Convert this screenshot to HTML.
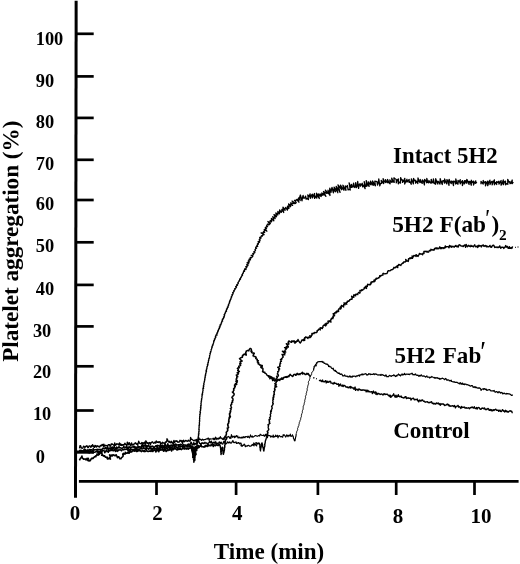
<!DOCTYPE html>
<html><head><meta charset="utf-8">
<style>
html,body{margin:0;padding:0;background:#fff;}
body{width:520px;height:564px;overflow:hidden;}
svg{display:block;}
text{font-family:"Liberation Serif","Times New Roman",serif;font-weight:bold;fill:#000;}
</style></head><body>
<svg width="520" height="564" viewBox="0 0 520 564">
<rect width="520" height="564" fill="#fff"/>
<g stroke="#000" fill="none">
<line x1="76.15" y1="0.8" x2="75.5" y2="497.7" stroke-width="3.0"/>
<line x1="78.9" y1="481.3" x2="518.6" y2="481.3" stroke-width="2.7"/>
<g stroke-width="2.7">
<line x1="76" y1="33.8" x2="93.7" y2="33.8"/>
<line x1="76" y1="76.4" x2="93.7" y2="76.4"/>
<line x1="76" y1="117.9" x2="93.7" y2="117.9"/>
<line x1="76" y1="159.8" x2="93.7" y2="159.8"/>
<line x1="76" y1="200.0" x2="93.7" y2="200.0"/>
<line x1="76" y1="242.3" x2="93.7" y2="242.3"/>
<line x1="76" y1="284.9" x2="93.7" y2="284.9"/>
<line x1="76" y1="326.4" x2="93.7" y2="326.4"/>
<line x1="76" y1="366.3" x2="93.7" y2="366.3"/>
<line x1="76" y1="410.5" x2="93.7" y2="410.5"/>
<line x1="76" y1="452.1" x2="94" y2="452.1" stroke-width="3.2"/>
</g>
<g stroke-width="2.7">
<line x1="156.5" y1="481" x2="156.5" y2="495"/>
<line x1="236.1" y1="481" x2="236.1" y2="495"/>
<line x1="317.9" y1="481" x2="317.9" y2="495"/>
<line x1="396.2" y1="481" x2="396.2" y2="495"/>
<line x1="474.5" y1="481" x2="474.5" y2="495"/>
</g>
</g>
<g font-size="19.7">
<text transform="translate(35.7,44.5) scale(0.935,1)">100</text>
<text transform="translate(35.7,86.5) scale(0.935,1)">90</text>
<text transform="translate(35.7,128.4) scale(0.935,1)">80</text>
<text transform="translate(35.7,170.0) scale(0.935,1)">70</text>
<text transform="translate(35.7,210.4) scale(0.935,1)">60</text>
<text transform="translate(35.7,251.8) scale(0.935,1)">50</text>
<text transform="translate(35.7,295.0) scale(0.935,1)">40</text>
<text transform="translate(32.9,336.8) scale(0.935,1)">30</text>
<text transform="translate(32.9,377.7) scale(0.935,1)">20</text>
<text transform="translate(32.9,420.4) scale(0.935,1)">10</text>
<text transform="translate(35.7,462.6) scale(0.935,1)">0</text>
</g>
<g font-size="20.2" text-anchor="middle">
<text transform="translate(75.1,520.0) scale(1.04,1)">0</text>
<text transform="translate(157.6,520.0) scale(1.04,1)">2</text>
<text transform="translate(237.3,520.2) scale(1.04,1)">4</text>
<text transform="translate(318.7,523.2) scale(1.04,1)">6</text>
<text transform="translate(397.9,523.2) scale(1.04,1)">8</text>
<text transform="translate(481.0,523.2) scale(1.04,1)">10</text>
</g>
<text transform="translate(213.8,558.9) scale(1.045,1)" font-size="22.1">Time (min)</text>
<text transform="translate(17.9,361.8) rotate(-89.9) scale(1.015,1)" font-size="22.8">Platelet aggregation (%)</text>
<text transform="translate(393.1,162.9) scale(1.032,1)" font-size="22.1">Intact 5H2</text>
<text transform="translate(392.2,232.3) scale(1.055,1)" font-size="22.1">5H2 F(ab</text>
<text transform="translate(394.6,362.7) scale(1.045,1)" word-spacing="1.3" font-size="22.1">5H2 Fab</text>
<text transform="translate(485.3,227.3) scale(0.68,0.93)" font-size="26">′</text>
<text transform="translate(491.5,232.3) scale(1.055,1)" font-size="22.1">)</text>
<text transform="translate(499.0,239.6) scale(1.020,1)" font-size="15.0">2</text>
<text transform="translate(480.3,360.7) scale(0.80,1.13)" font-size="26">′</text>
<text transform="translate(393.2,437.6) scale(1.045,1)" font-size="22.1">Control</text>
<g id="curves" stroke="#000" fill="none" stroke-width="1" stroke-linejoin="round">
<path id="cA0" stroke-width="1.50" d="M79.5 450.0L80.1 451.3L80.7 451.4L81.3 451.5L81.9 452.0L82.5 450.7L83.1 452.2L83.7 451.6L84.3 451.2L84.9 450.5L85.5 450.7L86.1 452.0L86.7 450.9L87.4 451.7L88.0 452.6L88.6 452.6L89.2 453.0L89.8 451.5L90.4 450.7L91.0 452.5L91.6 451.9L92.2 452.6L92.8 451.7L93.4 452.6L94.0 452.4L94.6 452.2L95.2 452.0L95.8 451.8L96.4 451.7L97.0 451.6L97.6 452.2L98.1 451.0L98.8 452.8L99.3 451.2L100.0 452.1L100.5 451.2L101.1 450.9L101.8 452.8L102.3 450.9L102.8 450.0L103.4 450.3L104.1 450.7L104.8 452.7L105.3 451.2L105.9 451.7L106.4 450.0L107.1 451.0L107.7 451.3L108.3 452.3L108.8 450.2L109.4 451.1L110.0 450.9L110.5 449.7L111.2 450.5L111.8 450.3L112.3 448.5L113.0 450.8L113.6 450.8L114.2 450.0L114.7 449.1L115.5 451.4L116.0 450.5L116.7 451.0L117.3 451.4L117.8 449.7L118.4 450.7L119.0 449.8L119.6 449.9L120.2 449.8L120.8 449.9L121.5 450.8L122.0 450.0L122.6 449.6L123.2 449.5L123.8 450.0L124.4 448.9L125.0 449.1L125.6 449.5L126.2 449.0L126.8 449.4L127.4 448.9L128.1 451.1L128.6 450.6L129.2 449.8L129.8 449.3L130.5 451.2L131.0 449.7L131.6 449.2L132.2 449.5L132.8 449.5L133.5 450.4L134.0 449.3L134.7 451.0L135.2 448.5L135.9 449.7L136.4 448.3L137.1 450.6L137.7 448.9L138.3 449.0L138.9 449.8L139.5 450.1L140.0 448.1L140.7 448.7L141.2 447.8L141.9 449.0L142.5 448.9L143.1 448.6L143.7 448.3L144.3 448.5L144.9 448.2L145.5 449.3L146.2 450.1L146.7 447.2L147.3 448.6L147.9 448.4L148.5 449.2L149.1 448.0L149.7 448.6L150.3 447.8L151.0 449.2L151.6 448.8L152.1 448.5L152.8 448.9L153.4 448.4L153.9 447.3L154.6 449.0L155.2 448.8L155.8 448.4L156.4 449.3L157.0 449.6L157.6 447.6L158.2 447.8L158.8 449.7L159.4 449.7L160.0 447.8L160.5 447.3L161.2 447.7L161.8 447.8L162.3 446.9L163.0 448.1L163.6 447.1L164.2 447.0L164.9 448.8L165.4 447.5L166.1 447.9L166.7 448.5L167.3 448.6L167.9 447.6L168.5 447.8L169.0 447.1L169.8 449.2L170.3 448.3L170.8 446.7L171.5 447.6L172.2 448.2L172.8 447.9L173.4 449.0L174.0 448.7L174.5 447.0L175.1 447.2L175.7 446.2L176.4 447.4L177.0 447.3L177.7 449.5L178.2 447.3L178.7 445.3L179.3 446.4L180.0 447.1L180.5 445.9L181.1 446.1L181.8 446.5L182.4 447.1L183.0 446.6L183.6 445.9L184.3 447.3L184.8 446.2L185.4 446.1L185.9 445.3L186.6 445.7L187.3 446.9L187.8 445.0L188.5 446.1L189.1 446.8L189.7 445.9L190.3 446.3L190.8 445.1L191.6 447.1"/>
<path id="cA" stroke-width="1.30" d="M191.2 446.0L191.4 446.6L191.9 447.2L191.9 447.8L191.6 448.4L191.4 449.0L191.6 449.6L191.6 450.2L191.9 450.8L192.0 451.4L192.0 452.0L192.1 451.4L191.8 450.8L192.2 450.2L192.5 449.6L192.1 449.0L192.0 448.4L192.3 447.8L192.3 447.2L192.0 446.6L192.5 446.0L192.5 446.6L192.6 447.2L192.2 447.8L192.5 448.4L192.7 449.0L192.7 449.6L192.9 450.2L192.9 450.8L192.7 451.4L192.9 452.0L192.9 452.6L192.5 453.2L192.6 453.8L192.6 454.4L192.7 455.0L192.8 455.6L192.6 456.2L192.9 456.8L192.6 457.4L193.0 457.9L193.0 457.4L192.8 456.8L192.9 456.2L193.1 455.6L193.4 455.0L193.1 454.3L193.1 453.7L193.1 453.1L193.0 452.5L192.9 451.9L193.2 451.3L192.9 450.7L193.2 450.1L193.3 449.4L193.2 448.8L193.1 448.2L193.0 447.6L193.5 447.2L193.6 447.6L193.2 448.2L193.3 448.8L193.5 449.4L193.7 450.0L193.4 450.6L193.1 451.2L193.6 451.8L193.6 452.4L193.4 453.0L193.5 453.6L193.2 454.2L193.6 454.8L193.5 455.4L193.8 456.0L193.3 456.6L193.7 457.2L194.1 457.8L193.9 458.4L193.8 459.0L193.4 459.6L193.7 460.2L193.8 460.8L193.7 461.4L193.9 462.3L193.9 461.4L194.1 460.8L194.0 460.2L193.9 459.6L193.9 459.0L193.9 458.3L193.8 457.7L194.2 457.1L193.8 456.5L194.2 455.9L194.3 455.3L194.1 454.7L194.0 454.1L194.0 453.5L194.2 452.9L194.3 452.3L194.3 451.7L194.4 451.1L194.2 450.4L194.3 449.8L194.0 449.2L194.3 448.6L194.3 448.0L194.4 448.6L194.1 449.2L194.2 449.8L194.9 450.3L194.5 450.9L194.8 451.5L194.4 452.1L194.0 452.7L194.5 453.3L194.5 453.9L194.6 454.5L194.5 455.1L194.5 455.7L194.3 456.3L194.7 456.9L194.4 457.5L194.8 458.0L194.7 458.6L194.5 459.2L194.6 459.8L194.9 460.4L194.7 460.8L194.7 460.4L194.8 459.8L195.1 459.2L194.7 458.6L194.9 458.0L195.1 457.4L195.1 456.7L195.1 456.1L195.3 455.5L195.2 454.9L195.3 454.3L195.2 453.7L195.5 453.1L194.9 452.5L195.3 451.9L195.1 451.3L195.1 450.7L195.0 450.0L194.8 449.4L195.0 448.8L195.1 448.2L195.3 447.6L195.3 446.7L195.1 447.6L195.3 448.2L195.4 448.8L195.6 449.5L195.7 450.1L195.8 450.7L195.8 451.3L195.7 451.9L195.7 452.5L196.0 453.1L195.9 453.8L196.0 454.4L195.8 455.0L196.2 454.4L196.1 453.8L195.9 453.2L195.6 452.6L195.6 452.0L195.6 451.4L196.0 450.8L195.9 450.2L196.1 449.6L196.0 449.0L196.1 448.4L196.5 447.8L196.2 447.2L196.2 446.6L196.3 445.8L196.3 446.6L196.6 447.1L196.8 447.7L196.9 448.2L197.0 448.8L196.7 449.4L196.9 450.5L196.8 449.4L197.0 448.8L197.0 448.3L196.8 447.7L196.9 447.1L197.0 446.5L196.9 445.9L197.5 445.4L196.9 444.7L197.2 444.2L197.3 443.6L197.2 443.0L197.4 442.4L197.7 441.8L197.7 441.2L197.9 440.6L198.1 440.0 M198.0 440.0L197.7 440.0L198.1 439.0L197.9 438.0L198.5 438.0L198.3 437.0L198.3 436.0L198.6 436.0L198.6 434.9L198.4 433.9L199.0 433.9L198.8 432.8L198.7 431.7L199.1 431.7L199.0 430.6L199.2 429.5L198.8 429.5L199.0 428.4L199.2 427.3L199.0 427.3L199.2 426.2L199.0 425.1L199.5 425.2L199.4 424.1L199.5 423.0L199.3 423.0L199.5 421.9L199.8 420.8L199.4 420.8L199.7 419.7L199.5 418.6L199.8 418.6L199.6 417.5L199.7 416.4L199.9 416.4L199.9 415.3L199.7 414.2L200.2 414.2L200.2 413.1L200.5 412.1L199.9 412.0L200.3 410.9L200.7 409.9L200.4 409.8L200.7 408.8L201.0 407.7L200.5 407.6L200.9 406.6L200.7 405.4L201.1 405.5L201.1 404.4L200.9 403.3L201.2 403.3L201.2 402.2L201.2 401.1L201.6 401.1L201.4 400.0L201.8 399.0L201.5 398.9L201.9 397.9L202.1 396.8L201.9 396.8L202.0 395.7L202.6 394.7L202.0 394.6L202.4 393.6L202.8 392.5L202.5 392.5L202.8 391.4L203.1 390.4L202.8 390.3L203.0 389.3L202.9 388.2L203.6 388.3L203.3 387.1L203.8 386.1L203.3 386.0L203.7 385.0L204.1 384.0L203.7 383.9L204.0 382.8L204.5 381.8L204.2 381.8L204.5 380.7L204.9 379.7L204.6 379.6L204.8 378.6L205.3 377.5L204.9 377.5L205.2 376.4L205.6 375.4L205.1 375.3L205.7 374.3L205.7 373.2L206.0 373.2L206.1 372.2L206.6 371.1L205.9 371.0L206.4 370.0L206.5 368.9L206.9 368.9L206.9 367.8L206.9 366.7L207.3 366.7L207.5 365.6L208.0 364.6L207.4 364.5L208.0 363.5L208.0 362.3L208.4 362.4L208.4 361.3L208.5 360.1L208.9 360.2L208.8 359.0L209.1 357.9L209.5 358.0L209.5 356.9L209.8 355.8L209.5 355.8L210.0 354.7L210.3 353.6L209.9 353.5L210.6 352.6L210.5 351.4L210.9 351.5L211.1 350.4L211.2 349.3L211.5 349.4L211.7 348.3L212.2 347.3L211.7 347.2L212.4 346.2L212.9 345.3L212.4 345.1L213.2 344.2L213.3 343.1L213.5 343.2L213.8 342.1L213.6 340.9L214.2 341.1L214.5 340.0L214.4 338.8L215.0 339.1L215.2 338.0L215.9 337.1L215.3 336.9L215.8 335.9L216.0 334.8L217.0 335.2L216.8 334.0L216.9 332.8L217.5 333.1L217.7 332.0L217.7 330.8L218.4 331.1L218.4 330.0L218.6 328.9L219.0 329.1L219.5 328.1L219.3 326.8L220.1 327.1L220.1 326.0L220.0 324.8L220.8 325.1L221.1 324.1L221.1 322.9L221.6 323.1L221.7 322.0L221.9 320.9L222.6 321.2L222.3 319.9L222.5 318.8L223.1 319.1L223.6 318.1L223.5 316.9L224.2 317.2L224.3 316.1L224.7 315.1L224.1 314.8L224.8 314.0L225.0 312.9L225.5 313.1L225.5 311.9L226.5 311.2L226.0 310.9L226.5 310.0L226.5 308.8L227.1 309.1L227.4 308.0L227.4 306.9L228.2 307.2L228.0 306.0L228.8 305.1L228.3 304.9L228.9 304.0L229.1 302.9L229.6 303.1L229.5 301.9L229.6 300.9L230.2 301.1L230.3 300.0L230.6 298.9L231.1 299.1L231.0 297.9L231.7 297.1L231.2 296.9L231.9 296.0L232.4 295.1L231.9 294.8L232.9 294.1L233.2 293.1L232.6 292.8L233.5 292.0L234.2 291.1L233.7 290.8L234.5 290.0L235.2 289.1L234.6 288.8L235.8 288.1L236.5 287.2L235.6 286.8L236.5 285.9L237.5 285.2L236.7 284.8L237.7 284.0L238.4 283.1L237.8 282.8L238.5 281.9L239.3 281.1L239.0 280.9L239.7 280.0L239.7 278.8L240.5 279.2L240.6 278.0L241.0 276.9L241.4 277.1L241.7 276.0L242.5 275.2L241.9 274.9L242.6 274.0L242.9 272.9L243.3 273.1L243.5 272.0L243.6 270.8L244.6 271.3L244.5 270.0L244.6 268.8L246.0 269.5L245.9 268.2L246.9 267.5L245.6 266.8L247.1 266.3L248.0 265.6L246.6 264.9L247.7 264.3L248.7 263.6L247.0 262.8L248.6 262.5L249.5 261.8L248.2 261.1L249.1 260.4L249.1 259.2L250.5 259.9L250.2 258.6L250.3 257.4L251.2 257.9L252.1 257.1L252.8 256.3L251.1 255.3L252.9 255.1L253.6 254.2L252.7 253.7L254.0 253.2L255.0 252.5L253.7 251.8L255.1 251.3"/>
<path id="cA2" stroke-width="1.30" d="M255.1 251.3L255.5 250.3L254.9 249.9L255.5 249.0L256.6 248.3L255.6 247.9L256.1 246.9L257.7 246.3L256.7 245.9L257.5 245.0L257.4 243.8L258.4 244.2L258.3 242.9L259.5 242.2L258.1 241.7L259.6 241.1L260.1 240.1L259.2 239.7L260.1 238.8L259.7 237.4L261.0 238.1L260.9 236.7L261.4 235.7L262.2 236.2L262.6 235.1L264.2 234.7L261.1 232.9L263.3 232.9L264.7 232.4L263.4 231.7L264.5 231.0L264.2 229.6L266.9 231.1L265.2 229.0L266.6 228.5L265.2 227.7L266.1 227.0L267.6 226.6L266.5 226.0L267.0 225.1L267.5 224.1L268.7 224.9L269.6 224.2L267.9 221.5L270.3 223.5L269.9 221.7L270.3 220.5L271.6 221.8L271.6 220.2L271.4 218.5L273.8 220.7L273.4 218.7L272.8 216.7L275.1 218.5L275.0 216.9L274.0 214.6L276.5 216.7L276.1 214.8L275.9 212.9L277.8 215.0L277.8 213.3L277.9 211.4L279.4 213.8L279.7 212.2L279.6 209.9L281.2 212.4L281.7 211.2L281.9 209.4L283.7 212.5L283.0 209.3L283.0 207.1L285.0 210.4L285.1 208.4L285.8 207.4L287.4 210.1L287.8 208.6L287.5 206.2L288.9 208.4L289.0 206.4L288.6 203.9L290.6 206.7L290.3 204.5L292.6 205.4L290.5 202.9L292.5 203.4L294.2 203.6L292.1 201.1L295.6 203.5L296.2 202.4L294.5 200.3L296.0 200.3L296.8 199.5L298.9 202.2L298.1 199.3L298.6 197.9L300.2 200.5L299.7 197.3L300.4 195.0L302.0 200.8L302.4 197.9L303.1 195.4L303.6 198.2L304.7 198.0L305.6 196.1L306.1 199.1L307.2 198.4L308.4 199.5L307.8 194.8L309.2 196.7L310.1 193.8L310.4 198.4L311.3 195.5L312.4 194.2L312.4 197.9L313.5 195.6L314.5 193.5L314.6 198.4L315.6 196.2L316.8 198.1L316.5 193.2L317.7 195.9L319.3 198.5L318.3 194.0L319.6 195.4L321.2 196.5L320.1 193.9L321.8 195.3L321.8 192.8L323.0 195.3L323.2 193.4L325.9 196.3L323.5 191.5L325.5 192.9L326.9 193.3L325.4 190.2L328.3 193.7L328.0 190.2L330.0 195.5L329.6 191.2L329.8 188.2L331.0 192.3L331.4 189.8L332.0 187.5L333.4 192.8L333.5 189.1L335.4 191.8L334.1 187.2L335.8 189.1L337.9 192.8L336.2 186.5L337.9 188.6L340.1 192.4L338.0 184.8L339.8 187.2L341.6 189.7L340.5 185.2L342.4 188.4L343.9 190.2L342.9 185.2L344.6 188.2L346.0 190.3L345.3 185.9L346.5 186.8L347.4 185.5L348.1 189.8L349.1 189.4L350.3 190.0L349.1 182.9L351.0 187.5L351.5 184.3L352.0 187.4L353.0 186.4L353.6 183.1L354.2 187.5L355.2 187.0L355.7 182.7L356.3 187.6L357.2 185.9L357.7 181.5L358.6 188.4L359.2 184.5L360.1 183.7L360.5 186.2L361.4 184.7L362.2 183.2L362.7 186.9L363.6 185.1L365.1 188.7L364.2 181.7L365.9 186.4L366.9 186.2L366.2 180.6L367.8 184.8L369.1 186.4L368.5 182.0L369.8 183.7L371.0 184.9L370.5 181.1L372.0 183.9L373.2 185.4L372.6 181.0L374.1 183.8L375.4 185.8L374.8 181.2L375.9 181.4L377.0 181.6L377.5 185.1L378.3 182.9L378.8 179.0L379.8 185.9L380.5 183.5L381.6 183.3L381.2 180.4L382.5 182.2L383.7 183.5L383.1 178.7L384.6 181.7L385.8 182.6L385.5 179.7L386.7 181.7L387.9 182.7L387.6 179.5L389.0 182.7L390.1 183.8L389.8 179.8L391.0 181.9L392.1 182.3L391.7 178.1L393.1 181.5L394.2 182.4L393.9 177.8L395.1 178.8L396.3 179.5L396.3 182.9L397.3 180.0L398.4 178.9L398.3 183.8L399.4 182.1L400.5 183.1L400.6 177.6L401.6 180.1L402.6 180.0L402.6 182.4L403.7 181.0L404.8 178.3L404.7 184.0L405.8 181.3L407.0 179.3L406.9 182.1L408.0 181.0L409.2 179.4L409.1 182.4L410.2 181.9L411.2 184.3L411.4 178.8L412.4 181.3L413.4 183.9L413.6 178.5L414.6 180.8L415.7 180.2L415.6 183.2L416.8 181.4L417.8 183.6L418.0 178.0L419.0 181.1L420.1 182.6L420.2 179.5L421.2 182.0L422.2 183.4L422.4 179.9L423.4 181.1L424.4 184.9L424.6 179.5L425.6 180.4L426.7 182.8L426.8 178.5L427.8 182.3L428.9 182.8L428.9 180.5L430.0 182.1L431.1 183.3L431.2 179.3L432.2 182.3L433.3 182.8L433.4 178.8L434.4 183.5L435.6 184.2L435.7 178.7L436.7 181.7L437.8 184.1L437.9 181.1L439.0 182.3L440.0 184.1L440.2 178.7L441.2 182.1L442.3 184.5L442.3 181.1L443.5 180.6L444.5 183.2L444.6 179.0L445.7 181.9L446.8 183.9L446.9 179.6L447.9 180.9L449.0 185.3L449.1 179.3L450.2 182.2L451.3 183.6L451.3 181.2L452.4 181.4L453.5 185.5L453.5 181.2L454.7 181.4L455.7 184.0L455.8 179.0L456.9 183.4L458.0 184.1L458.0 180.4L459.1 182.0L460.2 179.7L460.2 183.8L461.3 182.1L462.4 180.6L462.4 185.5L463.5 182.6L464.6 180.6L464.6 183.9L465.7 180.7L466.8 183.3L466.8 179.3L468.0 181.6L469.1 184.5L469.1 181.5L470.2 181.7L471.3 185.2L471.3 180.2L472.4 182.6L473.5 181.1L473.5 185.0L474.6 182.5L475.7 180.9L475.7 183.4L476.8 181.8 M481.0 184.2L481.0 181.5L482.1 182.7L483.2 184.0L483.2 180.5L484.4 182.8L485.5 181.6L485.5 185.9L486.6 182.8L487.7 181.1L487.7 185.7L488.8 182.4L489.9 180.2L490.0 184.6L491.1 182.1L492.2 181.3L492.2 184.9L493.3 181.8L494.4 179.9L494.4 184.8L495.5 182.5L496.7 184.5L496.6 181.7L497.8 182.3L498.9 181.2L498.9 184.1L500.0 182.4L501.1 180.5L501.1 185.2L502.2 183.1L503.3 179.9L503.4 184.7L504.4 181.9L505.5 181.1L505.6 184.8L506.7 183.6L507.8 184.3L507.7 179.3L508.9 182.1L510.0 181.5L510.0 183.7L511.1 183.1L512.2 180.0L512.2 183.7L513.3 182.0"/>
<path id="cB0" stroke-width="1.60" d="M79.4 460.4L80.0 459.1L80.7 458.0L81.2 457.8L81.9 456.0L82.3 458.0L82.9 458.4L83.4 459.2L84.0 459.1L84.5 459.1L85.1 458.9L85.6 459.3L86.1 460.0L87.0 458.3L87.5 458.8L88.4 458.4L87.8 460.5L88.4 460.8L89.2 461.0L89.9 460.0L90.4 460.6L90.5 459.9L90.9 459.5L91.1 458.9L91.8 458.8L92.0 458.0L93.0 458.5L93.5 457.9L93.9 457.3L94.4 457.1L94.8 456.5L95.8 456.8L95.9 455.9L96.6 455.8L96.9 455.1L96.9 454.1L98.3 455.1L98.1 453.7L99.2 454.4L99.7 453.9L99.5 452.3L100.6 452.5L101.2 453.2L101.7 453.6L102.3 454.0L101.7 455.3L102.6 455.1L102.9 455.7L103.6 455.5L103.9 456.2L104.7 455.8L105.0 456.5L105.3 457.1L105.9 457.1L106.6 457.2L107.4 457.4L107.1 458.4L107.4 459.0L108.0 458.9L108.0 458.4L109.1 458.6L110.5 459.1L109.5 457.4L110.2 457.2L110.6 456.8L109.5 454.9L111.2 455.8L111.3 455.0L112.3 456.0L112.6 455.0L113.3 454.7L113.7 455.2L114.3 455.6L114.9 455.2L115.4 455.6L116.2 454.9L116.6 455.7L117.1 456.6L117.5 457.6L118.2 456.9L118.9 456.8L119.0 457.6L119.5 457.9L119.8 458.8L121.0 458.8L121.4 457.7L121.9 457.4L122.3 457.0L122.8 456.6L123.1 456.1L123.0 455.2L122.7 454.1L123.8 454.4L123.6 453.4L125.0 454.0L125.5 453.7L125.3 452.3L126.7 453.3L127.3 453.2L127.6 452.5L128.6 453.2L129.3 453.1L129.1 450.9L130.1 452.1L130.6 451.7L131.2 451.7L131.8 452.0L132.4 450.8L133.0 450.9L133.6 450.7L134.2 450.7L134.8 451.1L135.4 450.2L136.0 450.4L136.6 451.5L137.2 451.1L137.8 451.4L138.4 449.8L139.0 450.5L139.6 450.6L140.2 451.0L140.8 450.6L141.4 451.6L142.0 451.0L142.6 450.9L143.2 450.9L143.8 451.4L144.4 450.6L145.0 451.6L145.6 451.2L146.2 450.9L146.8 450.8L147.4 451.1L148.0 451.5L148.6 451.4L149.2 451.0L149.8 451.3L150.4 450.8L151.0 451.5L151.6 450.6L152.1 449.1L152.8 451.4L153.4 450.7L154.0 449.7L154.6 450.3L155.2 449.9L155.9 451.9L156.4 450.9L157.0 449.3L157.6 450.7L158.2 450.1L158.8 451.7L159.4 449.7L159.9 448.7L160.6 450.2L161.2 450.0L161.8 449.9L162.3 448.6L163.0 450.3L163.7 451.2L164.2 448.8L164.9 450.7L165.4 449.6L166.2 451.5L166.7 450.3L167.3 449.7L167.9 450.6L168.5 450.2L169.1 449.3L169.7 450.1L170.3 449.3L170.8 448.3L171.6 450.9L172.1 449.3L172.7 449.0L173.3 449.6L173.9 448.3L174.5 448.4L175.1 448.9L175.7 448.9L176.4 449.3L177.0 450.0L177.6 448.9L178.2 449.4L178.8 449.5L179.3 448.3L180.0 449.1L180.5 448.3L181.3 449.6L181.8 449.2L182.4 448.8L182.9 447.8L183.6 448.7L184.2 448.1L184.8 449.1L185.4 448.5L186.0 447.9L186.7 449.1L187.2 448.9L187.8 448.0L188.5 449.1L189.0 448.1L189.6 448.0L190.2 448.2L190.8 447.6L191.4 447.7L192.0 447.8L192.8 448.9L193.5 448.8L193.8 447.4L194.7 448.5L195.0 447.3L195.7 447.4L196.4 447.6L196.9 447.0L197.8 448.3L198.0 446.8L198.5 445.6L199.3 447.3L199.8 446.1L200.4 446.1L200.9 444.2L201.7 446.8L202.3 446.8L202.9 446.7L203.5 446.8L204.2 447.2L204.7 446.0L205.3 446.6L205.9 445.4L206.5 445.6L207.2 446.5L207.7 446.1L208.3 444.8L208.9 445.9L209.5 445.5L210.1 445.0L210.8 445.8L211.3 445.2L211.9 444.3L212.5 444.6L213.3 446.5L213.7 444.3L214.4 445.4L215.0 445.6L215.6 445.6L216.2 444.3L216.9 444.9L217.5 445.2L218.1 445.6L218.7 444.6L219.3 444.2L220.0 445.7"/>
<path id="cB" stroke-width="1.50" d="M219.8 445.0L220.0 445.6L220.3 446.2L220.3 446.8L220.5 447.4L220.5 448.0L220.8 448.6L220.7 449.2L220.7 449.8L220.9 450.4L220.8 451.0L220.8 451.6L220.9 452.2L220.9 452.8L221.1 453.4L221.0 454.0L221.0 454.6L221.1 454.0L221.3 453.4L221.1 452.7L221.1 452.1L221.4 451.5L221.6 450.9L221.9 450.3L221.9 449.6L221.7 449.0L222.1 448.5L222.1 448.0L222.2 447.4L222.5 447.3L222.5 447.6L222.6 448.2L222.7 448.8L222.6 449.4L222.8 450.0L222.8 450.6L223.1 451.2L223.4 451.8L223.1 452.4L223.0 453.0L223.2 453.6L223.4 454.3L223.6 453.6L223.5 453.0L223.9 452.4L224.0 451.8L224.1 451.2L224.2 450.6L224.4 450.0L224.4 449.4L224.5 448.8L224.3 448.1L224.5 447.5L224.9 447.0L224.7 446.3L224.7 445.7L224.9 445.1L225.1 444.5L225.1 443.9L224.9 443.2L225.1 442.6L225.0 442.0L225.2 441.3L225.5 440.8L225.5 440.1L225.8 439.5L226.3 439.0L226.2 438.3L226.3 437.7L226.1 437.0 M225.9 436.9L225.8 436.3L226.0 435.8L226.0 435.1L226.2 434.6L226.5 434.0L226.4 433.4L226.2 432.8L226.3 432.2L227.1 431.7L227.2 431.1L227.7 430.6L227.9 430.0L227.5 429.3L227.9 428.8L227.2 428.1L228.5 427.7L228.6 427.1L228.1 426.4L227.7 425.7L228.2 425.2L227.6 424.5L227.9 423.9L228.6 423.4L228.7 422.8L228.5 422.2L229.1 421.7L228.6 421.0L229.0 420.4L228.9 419.8L228.8 419.2L229.3 418.7L229.0 418.0L230.1 417.6L229.5 416.9L230.4 416.4L229.6 415.7L230.0 415.1L229.5 414.5L229.4 413.8L230.0 413.3L230.4 412.8L229.9 412.1L230.7 411.6L230.3 410.9L230.6 410.4L230.9 409.8L231.1 409.2L230.3 408.5L231.4 408.1L231.5 407.5L231.2 406.8L231.0 406.1L230.7 405.4L230.9 404.9L231.7 404.4L231.7 403.8L231.5 403.1L231.8 402.5L232.7 402.1L232.4 401.4L232.2 400.8L233.0 400.3L233.0 399.7L232.9 399.0L232.8 398.4L231.9 397.6L232.0 397.0L232.6 396.5L233.1 395.9L233.7 395.4L234.1 394.9L234.1 394.3L234.1 393.7L233.3 392.9L232.4 392.1L233.3 391.7L233.3 391.1L233.6 390.5L234.1 390.0L233.6 389.3L233.6 388.7L234.4 388.2L234.8 387.7L234.5 387.0L235.3 386.6L235.0 385.9L234.5 385.2L235.1 384.7L236.7 384.4L235.4 383.5L236.4 383.1L236.9 382.6L237.2 382.0L235.8 381.2L237.4 380.9L236.6 380.1L236.2 379.4L236.2 378.8L236.9 378.3L236.8 377.7L236.7 377.0L237.8 376.7L236.8 375.8L236.3 375.1L237.6 374.8L238.0 374.2L238.5 373.7L237.2 372.8L238.4 372.5L238.4 371.9L239.4 371.5L237.7 370.5L238.3 370.0L238.2 369.3L237.4 368.5L237.8 368.0L239.4 367.8L238.9 367.0L238.7 366.3L239.8 366.0L240.4 365.5L240.7 365.0L239.7 364.0L240.0 363.5L241.0 363.2L240.2 362.3L240.1 361.6L241.2 361.3L242.2 361.0L240.8 359.9L239.5 358.8L240.0 358.4L240.6 357.9L241.5 357.5L242.4 357.2L242.4 356.6L242.4 355.8L243.2 355.6L243.1 354.7L243.9 354.6L244.1 354.0L246.2 355.2L246.2 354.3L245.7 352.9L245.7 352.1L246.4 351.9L246.3 350.9L247.0 350.7L247.6 350.4L248.8 350.9L249.0 350.1L249.3 349.4L249.9 348.6L250.9 348.5L251.3 349.6L251.5 350.2L250.9 351.2L252.0 351.3L251.5 352.3L252.0 352.7L252.5 353.1L254.1 353.0L254.3 353.4L253.4 354.7L253.1 355.8L253.9 355.9L254.1 356.5L255.1 356.5L255.7 356.9L256.2 357.2L255.7 358.3L256.1 358.7L256.8 359.0L257.3 359.4L257.1 360.2L257.4 360.7L258.4 360.8L257.3 362.0L258.0 362.3L258.6 362.6L258.1 363.6L258.4 364.1L259.4 364.3L259.5 364.9L260.7 365.0L261.0 365.5L262.3 365.5L260.7 367.1L262.3 366.8L261.4 368.0L262.3 368.1L262.9 368.4L262.9 369.2L262.9 370.0L262.9 370.7L262.5 371.7L263.5 371.7L263.7 372.3L264.9 372.2L264.8 373.0L265.3 373.4L266.0 373.6L266.4 374.1L266.7 374.5L267.0 375.1L267.4 375.7L268.2 375.7L268.9 375.8L268.7 377.0L270.2 376.3L270.4 377.0L269.8 378.7L271.7 376.9L271.8 377.7L271.9 379.0L272.9 377.9L272.6 380.6L274.1 378.1L274.1 380.2L274.5 381.0L275.2 381.0L276.0 380.2L276.6 380.4L277.3 379.6L277.9 380.5L278.4 379.4L278.9 379.6L279.8 380.4L280.0 379.0L280.6 379.0L281.3 379.2L281.5 378.1L282.6 379.3L283.1 379.0L283.2 377.5L283.9 377.9L284.3 377.4L284.8 377.1L285.6 377.3L285.9 376.7L286.9 377.4L287.0 376.4L287.9 376.9L288.2 376.3L289.0 376.5L289.2 375.5L289.7 375.1L290.1 374.4L291.0 375.3L291.7 375.7L292.5 376.5L293.0 376.1L293.4 375.2L293.8 374.5L294.4 374.6L295.0 374.3L295.7 375.3L296.3 375.1L296.8 373.8L297.3 373.4L298.1 374.7L298.7 374.3L299.2 373.8L299.9 374.6L300.4 373.7L301.0 373.5L301.6 373.3L302.4 372.3L302.7 374.0L303.5 373.2L304.0 373.4L304.6 373.4L305.0 374.5L305.7 374.4L306.2 374.4L307.0 373.3L307.5 374.2L308.3 373.6L308.7 374.8L309.2 375.3L309.9 375.3L310.1 376.8"/>
<path id="cB2" stroke-width="1.40" d="M313.2 377.6L314.4 378.0 M316.0 378.6L316.8 378.8 M318.9 380.4L319.5 380.6L320.1 380.4L320.7 380.3L321.1 381.2L321.7 381.5L322.6 380.1L322.9 381.6L323.5 381.5L324.0 381.9L324.6 381.8L325.5 380.8L326.1 380.9L326.2 382.9L326.9 382.3L327.8 381.3L328.1 382.4L328.8 382.2L329.6 381.4L330.2 381.2L330.7 381.7L331.0 383.1L331.6 383.1L332.2 383.1L332.7 383.6L333.2 384.0L334.2 382.4L334.6 383.5L335.2 383.4L335.9 383.3L336.4 383.8L336.9 384.3L337.5 384.4L338.2 383.7L338.7 384.4L338.9 386.2L339.9 384.6L340.6 384.1L340.9 385.4L341.4 385.9L342.0 386.0L342.9 385.1L343.1 386.5L344.0 385.6L344.6 385.4L345.1 385.9L345.6 386.4L346.0 387.0L346.6 387.2L347.3 386.9L347.7 387.6L348.4 387.3L348.9 387.9L349.8 386.6L350.4 386.5L350.7 388.1L351.5 387.0L352.0 387.7L352.5 388.0L353.1 387.9L353.7 388.0L354.0 389.3L355.1 387.1L355.3 389.1L355.6 390.3L356.5 389.1L357.1 389.1L357.6 389.7L358.0 390.5L359.0 388.8L359.4 389.5L360.0 389.5L360.5 390.1L361.1 390.0L361.7 390.4L362.4 389.9L362.9 390.2L363.6 389.9L364.2 390.0L364.7 390.4L365.2 390.6L366.0 390.0L366.2 391.8L366.9 391.0L367.7 390.3L368.0 391.9L368.8 391.0L369.2 391.8L369.8 391.7L370.4 391.9L370.9 392.0L371.6 391.6L372.1 392.1L372.4 393.5L373.5 391.1L373.9 392.4L374.4 392.9L375.1 392.1L375.8 391.9L375.9 394.2L376.8 393.0L377.1 394.5L377.8 393.8L378.5 393.5L379.1 393.8L379.7 394.0L380.2 394.5L380.9 394.1L381.5 394.0L382.1 394.1L382.6 394.9L383.3 394.8L384.0 393.7L384.6 393.9L385.1 394.6L385.8 394.1L386.4 394.3L387.1 394.1L387.6 394.6L388.2 395.2L388.7 395.7L389.4 395.2L389.8 396.5L390.5 395.3L390.8 397.4L391.6 396.3L392.2 395.9L392.9 395.3L393.7 393.8L394.1 395.4L394.6 395.9L395.0 397.1L395.9 395.2L396.2 397.2L396.9 396.1L397.4 396.7L398.3 394.7L398.7 396.3L399.3 396.2L399.8 396.9L400.4 396.7L401.1 396.0L401.5 397.4L402.1 397.4L402.7 397.5L403.3 397.8L403.9 398.0L404.6 397.4L405.4 396.6L406.0 396.6L406.3 398.5L406.9 398.3L407.6 398.0L408.3 397.8L408.8 398.2L409.4 398.3L410.0 398.2L410.7 398.1L410.9 400.0L411.7 399.0L412.5 398.5L413.2 398.1L413.7 398.6L414.1 399.6L414.7 399.9L415.4 399.4L416.0 399.6L416.6 399.5L417.3 399.1L417.6 400.7L418.3 400.4L418.7 401.8L419.7 400.0L420.2 400.3L420.7 401.1L421.4 400.6L422.2 399.9L422.7 400.2L423.2 401.0L423.8 401.4L424.4 401.2L424.9 402.0L425.5 402.2L426.1 401.9L426.8 401.8L427.4 401.7L427.9 402.3L428.5 402.7L429.2 402.3L429.7 402.7L430.4 402.3L431.2 401.7L431.7 401.9L432.1 403.2L432.8 403.2L433.3 404.0L434.0 403.2L434.5 403.7L435.1 404.1L435.7 404.0L436.4 403.0L437.0 403.3L437.6 403.6L438.3 403.0L438.8 403.9L439.3 404.5L440.0 403.6L440.4 405.2L441.2 404.0L441.8 404.0L442.4 404.0L443.1 403.8L443.6 404.6L444.2 404.5L444.6 405.6L445.3 405.1L445.9 405.1L446.6 404.7L447.3 404.0L447.8 404.8L448.5 404.5L448.9 405.7L449.6 405.3L450.0 406.4L450.7 406.0L451.3 406.1L452.0 405.8L452.6 405.8L453.1 406.2L453.7 406.5L454.5 405.5L455.0 406.3L455.4 407.8L456.2 406.3L456.8 406.1L457.5 405.8L458.1 405.4L458.5 407.1L459.2 406.6L459.8 406.8L460.3 407.8L460.8 408.4L461.6 406.4L462.1 407.5L462.7 407.4L463.4 407.3L464.0 407.4L464.6 407.1L465.1 408.2L465.7 407.8L466.4 407.6L466.9 408.2L467.5 408.1L468.2 407.9L468.8 407.8L469.3 408.8L470.0 408.1L470.6 407.7L471.2 407.2L471.8 407.5L472.5 407.1L473.0 407.9L473.6 408.1L474.3 406.7L474.8 407.9L475.4 408.5L476.0 408.3L476.7 407.6L477.1 409.0L477.8 407.9L478.5 407.5L479.1 407.6L479.6 408.4L480.1 409.2L480.7 409.4L481.4 408.9L482.1 408.0L482.7 408.3L483.3 408.3L483.8 408.8L484.5 407.9L485.0 409.1L485.6 409.6L486.2 409.2L486.8 409.6L487.5 408.8L488.1 408.5L488.7 409.0L489.1 410.3L489.7 410.4L490.4 409.5L490.9 410.5L491.6 409.7L492.1 410.9L492.8 410.4L493.4 409.7L494.0 410.5L494.6 409.6L495.3 409.5L495.9 409.2L496.4 410.3L497.0 410.3L497.6 410.3L498.2 410.1L498.7 411.4L499.4 410.3L500.0 410.1L500.5 411.4L501.1 411.6L501.8 411.0L502.5 409.7L503.1 410.3L503.6 411.2L504.2 411.0L504.7 412.0L505.5 410.3L506.0 411.5L506.7 410.9L507.2 412.1L507.9 411.4L508.4 412.1L509.2 411.2L509.9 410.7L510.4 410.9L511.0 411.3L511.7 411.1L512.1 412.6L512.7 412.9"/>
<path id="cC0" stroke-width="1.50" d="M79.5 451.5L80.0 450.2L80.7 450.9L81.3 450.4L82.0 452.3L82.5 451.3L83.2 451.4L83.7 450.5L84.2 449.0L84.9 450.0L85.4 449.6L86.2 450.9L86.7 450.7L87.3 449.8L87.9 450.1L88.7 451.8L89.1 449.6L89.7 449.5L90.3 450.0L90.9 449.6L91.5 449.8L92.2 450.6L92.9 451.7L93.2 448.5L94.0 449.9L94.6 450.0L95.2 449.8L95.8 449.7L96.4 449.5L97.1 450.6L97.6 449.3L98.2 449.5L98.8 449.6L99.4 449.6L100.0 449.3L100.7 450.3L101.2 449.4L101.8 449.4L102.3 449.1L102.8 448.2L103.4 448.2L104.0 447.9L104.7 448.9L105.2 448.1L105.7 447.6L106.5 448.7L107.1 448.9L107.4 446.8L108.5 449.7L108.8 448.3L109.4 448.0L110.1 449.0L110.6 448.1L111.2 447.4L111.9 449.9L112.4 447.0L113.0 447.7L113.6 448.6L114.2 446.9L114.8 447.6L115.4 448.1L116.1 449.9L116.6 447.0L117.2 447.6L117.8 448.2L118.4 447.7L119.0 446.5L119.6 447.9L120.2 447.7L120.8 447.9L121.4 448.5L122.0 448.4L122.6 447.9L123.2 447.7L123.8 446.4L124.4 447.2L125.0 447.5L125.6 447.0L126.2 447.4L126.8 446.5L127.5 448.6L128.1 449.2L128.6 446.9L129.2 447.5L129.8 446.9L130.5 448.3L131.0 447.6L131.6 447.2L132.2 446.9L132.8 447.2L133.4 446.1L134.1 447.6L134.6 446.4L135.3 447.4L135.9 447.1L136.5 447.9L137.1 447.0L137.7 447.8L138.2 446.1L138.9 447.4L139.5 446.7L140.1 447.0L140.7 446.9L141.3 447.6L141.8 445.0L142.5 447.0L143.1 445.4L143.7 447.7L144.2 444.9L144.9 445.7L145.5 445.1L146.2 448.0L146.7 445.5L147.3 446.6L147.9 446.1L148.5 444.9L149.1 446.2L149.8 447.1L150.3 446.4L151.0 447.3L151.5 446.2L152.2 446.4L152.7 446.1L153.4 446.7L154.0 448.1L154.6 446.8L155.2 446.5L155.8 445.8L156.4 445.6L157.0 447.6L157.6 445.3L158.2 445.4L158.8 446.1L159.4 445.8L160.1 448.0L160.5 444.1L161.2 446.4L161.9 446.7L162.4 445.1L163.0 445.4L163.7 446.3L164.3 447.4L164.8 445.1L165.4 444.4L166.1 446.6L166.8 447.2L167.3 445.5L167.8 443.7L168.6 446.9L169.1 445.5L169.8 446.6L170.3 445.6L170.9 445.2L171.5 445.1L172.2 446.8L172.8 446.8L173.2 443.5L173.9 444.4L174.6 446.9L175.1 445.0L175.7 444.0L176.4 445.2L177.0 445.1L177.6 445.1L178.2 444.7L178.8 444.8L179.4 444.6L180.0 445.3L180.5 444.2L181.2 444.6L181.8 444.7L182.5 446.0L183.0 445.2L183.6 444.6L184.2 445.1L184.8 445.0L185.5 445.6L186.0 445.0L186.7 446.1L187.3 445.7L187.8 444.4L188.4 444.0L189.1 445.1L189.6 444.7L190.2 444.1L190.7 442.8L191.3 442.4L192.0 444.3L192.7 444.7L193.3 444.7L193.7 442.8L194.5 444.7L194.9 443.4L195.6 444.0L196.2 444.0L196.6 442.8L197.2 442.9L197.6 441.5L198.3 442.4"/>
<path id="cC1" stroke-width="1.25" d="M198.3 442.4L198.9 441.5L199.6 443.5L200.2 443.3L200.8 444.0L201.4 443.5L202.0 442.6L202.6 443.4L203.1 442.8L203.7 443.7L204.3 443.4L204.9 442.2L205.5 443.1L206.1 443.2L206.7 442.8L207.3 443.9L207.9 444.7L208.5 442.8L209.1 442.7L209.6 441.0L210.3 442.8L210.8 442.6L211.4 441.1L212.0 443.2L212.6 443.6L213.2 442.4L213.8 442.6L214.4 442.1L215.0 443.7L215.6 441.7L216.2 442.6L216.8 444.8L217.4 443.1L218.1 443.4L218.7 442.9L219.3 441.9L219.9 442.9L220.5 443.4L221.1 442.1L221.7 443.3L222.3 444.1L222.9 444.0L223.6 441.6L224.2 442.0L224.8 441.5L225.4 443.9L226.0 443.6L226.7 443.6L227.2 442.1L227.8 441.8L228.5 442.8L229.1 442.8L229.7 441.9L230.4 442.7L231.0 443.2L231.6 442.8L232.2 441.7L232.9 440.6L233.5 442.3L234.1 442.7L234.8 442.4L235.4 442.2L236.1 442.0L236.4 443.4L237.1 443.0L237.7 443.3L238.6 442.6L239.1 443.0L239.4 443.9L240.3 443.2L241.0 443.1L241.2 444.1L241.0 445.7L241.9 445.1L242.0 446.4L243.0 445.3L243.6 445.1L244.2 444.1L244.8 444.9L245.4 446.7L246.0 445.8L246.6 446.2L247.2 446.2L247.8 445.5L248.4 445.3L249.0 445.6L249.6 446.2L250.2 446.0L250.8 446.0L251.4 445.8L251.9 444.9L252.5 445.1L252.9 444.3L254.1 445.8L253.7 443.0L254.8 444.2L256.7 445.9L255.9 443.6L255.9 442.5L257.0 443.0L257.7 444.2L258.3 442.9L259.0 443.6L259.6 443.1"/>
<path id="cC" stroke-width="1.40" d="M259.7 443.0L259.2 443.7L259.6 444.2L259.8 444.8L259.9 445.5L259.9 446.1L259.9 446.7L259.9 447.3L260.0 447.9L260.3 448.5L260.2 449.2L260.3 449.8L260.4 450.4L260.5 450.8L260.4 450.4L260.5 449.8L260.7 449.3L260.6 448.7L260.9 448.1L261.1 447.6L261.0 447.0L261.2 446.4L261.3 445.8L261.6 445.3L261.3 444.6L261.6 444.1L261.6 443.5L262.0 442.9L262.1 443.6L262.4 444.1L262.4 444.7L262.7 445.3L262.5 445.9L262.7 446.5L262.8 447.0L263.2 447.6L263.4 448.2L263.2 448.8L263.5 449.4L263.6 450.0L263.6 450.6L263.8 451.0L263.9 450.6L264.0 450.0L264.1 449.5L264.1 448.9L264.3 448.3L264.2 447.7L264.5 447.2L264.7 446.6L264.8 446.0L264.8 445.4L264.9 444.9L264.6 444.2L265.0 443.7L265.1 443.1L265.2 442.5L265.3 442.0L265.3 441.3L265.4 440.8L265.7 440.2L266.0 439.7L265.9 439.1L265.9 438.5 M267.0 438.6L266.4 437.9L267.4 437.4L266.9 436.8L266.6 436.1L267.3 435.6L267.7 435.1L266.8 434.3L267.8 433.9L267.4 433.2L268.0 432.7L267.5 432.0L267.2 431.4L267.9 430.9L268.2 430.3L268.7 429.8L268.8 429.2L268.5 428.6L268.3 427.9L268.2 427.3L268.4 426.7L268.3 426.1L268.6 425.6L267.9 424.8L268.9 424.4L269.0 423.8L270.0 423.3L269.5 422.7L269.2 422.0L269.6 421.4L269.1 420.7L269.4 420.2L269.0 419.5L270.2 419.1L270.1 418.4L269.6 417.7L270.0 417.2L270.5 416.7L270.5 416.0L270.5 415.4L270.2 414.8L270.4 414.2L270.7 413.6L271.1 413.1L270.7 412.4L270.6 411.7L271.4 411.3L270.9 410.6L271.6 410.1L271.5 409.4L271.8 408.9L272.2 408.4L272.0 407.7L272.1 407.1L271.6 406.4L271.8 405.9L272.3 405.4L272.8 404.8L272.9 404.2L273.3 403.7L272.7 403.0L272.7 402.4L273.1 401.9L272.9 401.2L272.9 400.6L272.7 400.0L273.5 399.5L272.9 398.8L273.5 398.3L273.0 397.6L273.9 397.2L273.4 396.5L274.0 396.0L273.4 395.3L273.8 394.7L274.5 394.3L274.0 393.6L274.3 393.0L274.3 392.4L273.7 391.7L274.6 391.2L274.9 390.7L274.5 390.0L275.1 389.5L274.6 388.8L274.5 388.2L275.2 387.7L275.0 387.0L276.7 386.7L274.8 385.8L276.0 385.4L276.4 384.9L274.8 384.0L274.9 383.4L276.3 383.0L275.9 382.3L276.5 381.8L277.1 381.3L276.4 380.6L276.0 379.9L275.1 379.1L276.9 378.8L276.5 378.1L277.3 377.7L277.4 377.1L276.6 376.3L278.4 376.1L278.4 375.5L278.3 374.8L277.3 374.0L277.7 373.5L277.8 372.9L278.0 372.3L277.7 371.7L278.7 371.2L278.8 370.6L279.0 370.1L278.6 369.4L279.7 369.0L279.3 368.3L277.7 367.3L278.9 367.0L279.4 366.5L280.2 366.1L279.7 365.3L279.9 364.7L279.8 364.0L280.7 363.7L280.3 362.9L280.4 362.3L280.5 361.7L281.4 361.3L281.0 360.5L280.5 359.7L281.9 359.5L281.4 358.7L282.1 358.3L282.4 357.7L283.0 357.3L283.2 356.7L282.5 355.9L282.8 355.4L282.0 354.4L284.8 354.9L284.1 354.0L285.1 353.7L283.9 352.6L282.4 351.3L285.7 352.0L284.9 351.1L285.1 350.5L285.2 349.9L286.0 349.6L286.2 349.1L284.6 347.6L287.0 348.2L286.1 347.1L286.3 346.5L288.4 347.0L288.2 346.3L287.4 345.1L286.3 343.8L288.1 344.2L288.9 344.0L288.7 343.2L288.0 342.1L288.7 341.8L288.8 340.9L290.2 341.7L290.9 342.2L291.4 342.4L291.9 340.7L292.5 341.4L293.2 341.8L293.8 340.8L294.4 341.0L295.0 343.3L295.7 341.6L296.3 342.1L296.9 340.8L297.5 341.2L298.0 339.5L298.7 340.9L299.5 342.2L300.3 343.1L300.9 342.2L301.3 341.4L301.7 340.6L302.1 339.8L302.7 340.0L303.5 340.6L303.7 339.2L304.7 340.4L304.6 338.6L304.6 337.6L305.4 337.8L305.5 337.0L306.1 336.9L308.0 338.6L307.9 337.3L308.6 337.2L309.7 337.7L310.3 337.5L309.8 335.7L311.2 336.7L311.3 335.8L311.5 335.0L312.2 335.0L311.9 333.5L312.6 333.4L313.3 333.5L314.1 333.6L314.2 332.7L314.8 332.4L315.7 332.7L316.4 332.6L316.7 332.0L317.3 331.9L317.1 330.6L317.6 330.2L318.3 330.2L318.6 329.5L319.0 329.0L320.3 329.9L320.1 328.6L320.2 327.7L321.2 328.1L322.3 328.6L322.2 327.4L323.0 327.5L322.9 326.3L323.2 325.8L323.6 325.3L324.3 325.2L325.6 325.9L324.9 324.1L326.5 325.0L325.9 323.4L326.6 323.3L327.5 323.5L328.0 323.1L328.3 322.5L327.9 321.1L329.1 321.7L329.1 320.7L331.0 322.1L330.5 320.4L331.0 320.1L330.9 319.1L331.5 319.0L331.5 318.3L333.0 318.6L332.7 317.7L333.4 317.3L332.9 316.4L333.2 315.9L334.6 315.8L333.6 314.6L333.2 313.7L334.8 313.9L334.5 312.8L335.2 312.6L336.3 312.9L336.0 311.7L337.1 312.1L336.9 311.0L338.3 311.6L338.7 311.2L338.3 309.9L338.8 309.5L338.9 308.8L339.8 308.9L340.7 309.0L340.0 307.3L341.4 308.0L340.9 306.6L341.4 306.3L341.4 305.4L343.7 306.9L343.3 305.7L343.7 305.3L343.7 304.4L345.0 304.8L344.0 302.9L345.3 303.4L346.8 304.2L346.1 302.6L346.7 302.3L347.4 302.3L347.3 301.2L348.0 301.2L348.9 301.4L349.1 300.6L349.6 300.3L349.7 299.6L350.5 299.5L350.8 299.1L351.9 299.4L352.1 298.7L352.1 297.8L351.6 296.2L353.3 297.4L353.9 297.2L353.7 296.0L353.6 295.0L354.4 295.0L355.7 295.8L355.4 294.4L356.1 294.3L356.9 294.3L357.8 294.5L357.7 293.6L358.1 293.1L358.4 292.5L359.8 293.2L360.1 292.7L360.0 291.7L359.9 290.5L360.5 290.4L361.6 290.8L361.6 289.8L362.7 290.2L363.0 289.6L363.4 289.2L364.0 289.0L364.4 288.6L364.3 287.5L364.9 287.3L366.5 288.4L365.6 286.3L366.2 286.1L367.3 286.6L367.3 285.7L367.5 284.9L367.7 284.2L368.9 284.8L369.7 284.8L370.3 284.7L370.3 283.6L371.1 283.8L370.9 282.3L371.8 282.5L372.0 281.7L372.8 281.8L373.5 281.8L374.2 281.7L373.9 280.2L375.2 281.0L375.1 279.8L375.3 279.1L376.2 279.2L376.2 278.1L377.2 278.6L377.9 278.4L378.2 277.8L379.0 277.9L379.2 277.1L379.8 276.9L379.7 275.7L380.8 276.2L381.0 275.4L381.7 275.3L382.3 275.2L383.0 275.0L382.8 273.7L383.3 273.3L384.3 273.7L385.1 273.9L385.6 273.6L386.4 273.6L387.0 273.5L387.3 272.8L387.6 272.1L387.8 271.1L388.3 270.8L389.0 270.8L389.8 270.9L390.3 270.6L390.7 270.2L391.2 269.7L392.0 269.9L392.4 269.4L392.9 269.1L393.5 268.8L393.7 267.9L394.0 267.3L395.0 267.8L395.6 267.6L395.9 266.9L396.3 266.4L397.8 267.6L397.3 265.7L398.0 265.5L398.7 265.5L398.7 264.4L399.6 264.7L400.8 265.5L401.1 264.8L401.4 264.2L401.9 263.9L402.3 263.3L403.1 263.4L403.3 262.5L403.6 262.0L404.3 261.9L405.1 262.1L405.5 261.5L406.1 261.4L405.7 259.5L407.2 260.9L408.2 261.5L408.5 260.7L408.4 259.3L408.6 258.6L409.5 258.9L409.6 258.0L410.7 258.6L410.8 257.6L411.8 258.2L412.5 258.3L412.1 256.0L413.2 257.0L413.5 256.2L413.8 255.5L414.6 255.7L415.3 255.8L416.1 256.4L416.0 254.6L417.2 255.8L418.1 256.4L418.3 255.3L418.8 255.0L419.2 254.4L419.4 253.4L420.4 254.1L420.9 253.9L421.6 253.9L422.6 254.8L422.7 253.6L423.1 253.1L424.0 253.5L423.9 251.5L424.5 251.3L425.2 251.6L425.7 251.3L426.6 251.9L427.0 251.2L428.0 252.2L428.6 252.0L429.0 251.4L429.3 250.4L430.1 250.7L430.7 250.7L430.9 249.3L431.8 249.9L432.4 250.1L432.9 249.6L433.8 250.2L434.3 249.9L434.5 248.4L435.2 248.7L435.7 248.0L436.5 248.8L436.9 247.8L437.7 248.8L438.3 248.5L438.9 248.7L439.4 247.9L439.8 246.8L440.8 248.8L441.2 247.6L442.0 248.4L442.5 247.7L443.1 247.7L443.8 248.4L444.3 247.4L445.0 247.9L445.3 245.9L446.0 247.2L446.6 246.6L447.2 246.6L447.8 246.6L448.3 246.9L449.0 247.8L449.5 245.4L450.1 246.5L450.7 246.0L451.3 247.3L451.8 246.3L452.4 246.8L453.0 246.2L453.6 246.9L454.2 247.2L454.8 246.2L455.4 246.4L455.9 245.4L456.5 246.5L457.1 246.9L457.7 246.0L458.3 247.0L458.9 244.9L459.5 244.8L460.1 245.1L460.7 245.7L461.3 246.1L461.9 246.1L462.5 246.0L463.2 246.6L463.7 245.8L464.3 245.1L464.9 245.0L465.6 247.3L466.1 244.5L466.8 245.6L467.4 246.8L468.0 246.3L468.6 245.3L469.2 245.8L469.8 246.4L470.4 246.7L471.0 245.3L471.6 246.3L472.3 246.0L472.9 246.6L473.5 246.8L474.1 245.7L474.7 244.8L475.3 246.0L475.9 247.0L476.5 246.4L477.1 246.0L477.7 247.5L478.4 245.3L479.0 246.4L479.6 245.5L480.2 245.8L480.8 245.9L481.3 246.9L482.0 245.4L482.6 245.5L483.3 244.9L483.8 246.3L484.5 245.8L485.0 246.4L485.7 245.5L486.3 245.9L486.8 246.9L487.5 246.3L488.0 246.8L488.6 246.8L489.3 246.3L490.0 245.4L490.4 247.1L491.1 246.8L491.6 247.3L492.4 245.4L493.0 245.5L493.6 245.2L494.2 246.1L494.7 247.5L495.3 247.4L495.9 247.0L496.5 247.2L497.1 247.6L497.8 247.0L498.3 247.5L498.9 247.4L499.7 245.9L500.2 247.0L500.7 248.3L501.4 247.3L502.0 247.4L502.6 247.2L503.2 247.3L503.8 248.4L504.4 247.6L505.1 247.0L505.7 245.6L506.3 247.2L506.9 246.4L507.5 246.5L508.1 248.3L508.7 248.4L509.4 246.7L509.9 248.4L510.5 248.4L511.2 247.5L511.8 248.5L512.4 247.0L513.0 247.2 M515.2 247.4L516.0 247.4 M517.6 247.0L518.4 247.0"/>
<path id="cD" stroke-width="1.35" d="M79.5 448.3L80.0 445.7L80.6 445.6L81.3 448.0L81.9 448.0L82.5 448.3L83.1 447.2L83.6 446.1L84.2 446.7L84.9 447.7L85.4 446.5L86.0 446.5L86.6 445.8L87.2 445.9L87.9 447.7L88.5 447.4L89.0 445.9L89.6 445.9L90.2 446.3L90.9 447.3L91.4 445.7L92.0 446.5L92.5 444.7L93.1 445.4L93.8 447.0L94.5 447.4L94.9 445.5L95.5 445.7L96.3 447.1L96.8 446.0L97.3 445.8L98.0 446.6L98.6 446.3L99.3 447.1L99.9 446.8L100.3 445.4L101.0 445.7L101.6 445.7L102.0 444.5L102.7 444.7L103.5 446.4L103.8 444.1L104.7 446.2L105.2 445.6L105.8 445.2L106.5 445.7L107.1 445.6L107.7 446.2L108.2 444.7L108.8 444.7L109.4 444.6L110.1 446.5L110.7 445.7L111.2 443.9L111.8 444.3L112.4 444.0L113.0 444.6L113.6 444.8L114.3 446.7L114.7 442.9L115.4 445.3L116.0 444.9L116.6 443.8L117.2 444.2L117.8 443.9L118.4 444.3L119.0 445.2L119.5 442.9L120.3 445.4L120.8 443.9L121.5 445.5L122.0 444.6L122.7 445.2L123.2 444.6L123.9 445.1L124.4 444.1L125.0 443.2L125.6 444.5L126.2 444.6L126.9 445.9L127.3 442.1L128.0 443.6L128.6 444.8L129.2 442.7L129.8 443.5L130.5 445.7L131.1 445.1L131.6 443.0L132.2 445.0L132.8 444.8L133.4 444.4L134.0 444.0L134.6 443.8L135.2 442.8L135.8 443.0L136.4 444.2L137.0 443.7L137.7 445.2L138.2 443.2L138.7 441.2L139.4 443.0L140.0 443.6L140.6 443.7L141.2 443.4L141.8 442.5L142.5 444.6L143.0 442.7L143.7 443.8L144.2 442.9L144.8 442.0L145.5 444.3L145.9 440.8L146.6 442.1L147.3 443.4L147.9 442.7L148.5 443.6L149.1 442.9L149.7 442.5L150.4 444.8L150.9 442.7L151.5 442.7L152.1 441.8L152.7 442.0L153.4 443.3L154.0 443.2L154.5 442.7L155.1 442.0L155.8 443.2L156.3 441.0L156.9 442.1L157.6 442.3L158.1 441.7L158.8 442.5L159.4 441.8L160.0 441.6L160.7 444.0L161.3 443.1L161.9 443.4L162.4 442.3L163.1 443.1L163.7 442.9L164.3 443.2L165.0 444.3L165.4 441.9L166.1 442.2L166.7 441.9L167.0 438.7L167.8 440.4L168.5 441.7L169.1 442.3L169.7 441.2L170.4 442.7L171.0 442.9L171.5 441.3L172.2 442.8L172.8 443.2L173.4 442.0L173.9 440.5L174.6 442.7L175.1 441.3L175.7 440.9L176.4 441.3L176.9 440.7L177.6 442.1L178.2 441.9L178.9 442.2L179.4 441.6L180.0 440.3L180.6 440.8L181.3 441.7L181.8 440.5L182.6 443.5L183.0 440.7L183.6 440.2L184.3 441.7L184.8 441.4L185.4 440.7L186.0 440.4L186.6 440.9L187.3 441.3L187.8 441.2L188.4 440.2L189.0 440.8L189.7 441.2L190.2 441.1L190.6 437.5L191.3 439.3L191.9 439.4L192.6 439.9L193.2 440.3L193.9 440.9L194.4 440.6L195.0 439.9L195.6 440.0L196.3 441.5L196.7 439.4L197.3 440.0L198.0 441.2"/>
<path id="cD0" stroke-width="1.15" d="M198.0 441.2L198.5 440.0L198.9 437.8L199.6 439.8L200.2 439.2L200.8 439.4L201.4 440.4L202.0 439.9L202.5 439.2L203.2 440.2L203.7 439.8L204.3 439.5L204.9 439.6L205.5 439.5L206.1 439.0L206.7 438.8L207.3 439.2L207.8 438.3L208.4 438.0L209.1 440.3L209.6 438.9L210.2 439.1L210.8 438.9L211.4 439.0L212.0 439.0L212.6 439.0L213.2 438.2L213.8 439.7L214.4 438.3L215.0 439.8L215.5 437.1L216.2 437.8L216.8 439.7L217.4 438.7L218.0 438.1L218.6 439.1L219.2 437.8L219.8 438.7L220.3 436.6L221.0 438.1L221.6 438.0L222.2 439.1L222.8 439.4L223.4 437.8L224.1 440.0L224.5 438.0L224.7 436.5L225.2 436.0L226.7 439.2L227.0 437.8L227.4 437.1L228.0 436.8L228.5 436.3L229.7 438.3L230.0 437.0L230.9 438.5L231.2 436.7L231.4 434.6L232.5 437.3L233.0 436.2L233.6 436.2L234.4 437.7L234.8 436.0L235.5 437.1L236.0 436.1L236.7 435.5L237.0 436.8L237.9 436.1L237.9 437.8L238.6 437.8L239.4 437.2L239.9 437.8L240.6 437.8L241.2 437.1L241.9 438.1L242.5 437.1L243.1 437.9L243.8 436.5L244.4 437.4L245.0 437.7L245.5 436.5L246.2 436.7L246.8 436.5L247.6 437.5L248.0 436.1L248.8 437.0L249.6 437.9L250.0 436.8L250.5 434.9L251.2 436.4L251.9 437.2L252.4 436.0L253.1 437.2L253.6 436.7L254.2 436.5L254.8 435.8L255.4 435.5L256.0 435.7L256.6 435.9L257.2 436.3L257.8 436.2L258.4 435.5L259.0 435.8L259.6 436.1L260.2 434.2L260.8 434.9L261.4 435.0L262.0 435.5L262.6 435.5L263.1 435.5L263.7 434.9L264.3 436.3L264.9 436.0L265.5 434.3L266.1 435.7L266.7 434.7L267.3 437.3L267.9 435.4L268.5 435.4L269.1 435.8L269.7 435.6L270.3 435.7L270.8 437.2L271.4 436.1L272.0 436.6L272.6 436.9L273.2 435.0L273.8 437.3L274.4 436.5L275.0 436.7L275.6 435.1L276.2 436.5L276.8 436.2L277.4 435.3L278.0 437.9L278.5 436.4L279.1 435.6L279.7 436.0L280.3 436.6L280.9 436.9L281.5 436.4L282.1 436.9L282.7 437.2L283.2 434.7L283.8 435.3L284.4 434.9L285.0 435.8L285.6 437.1L286.2 436.4L286.8 434.8L287.4 435.4L288.0 436.7L288.6 435.3L289.1 435.6L289.7 436.0L290.3 434.1L290.9 436.4L291.5 436.1L292.0 436.2L292.4 434.8L293.0 434.9 M293.1 435.6L293.1 436.2L293.3 436.7L293.4 437.3L293.4 437.9L293.5 438.4L293.9 438.9L294.1 439.5L294.1 440.0L294.5 440.4L294.8 440.9L295.2 440.3L295.1 439.7L295.3 439.1L295.4 438.6L295.5 438.0L295.6 437.4L295.7 436.8L296.0 436.3L296.0 435.7L296.1 435.1L296.1 434.6L296.2 434.0"/>
<path id="cD1" stroke-width="1.00" d="M296.0 433.9L296.2 433.4L296.8 432.9L296.5 432.2L296.7 431.7L296.9 431.1L297.3 430.6L297.3 430.0L297.7 429.5L297.6 428.9L297.6 428.3L297.9 427.8L298.2 427.2L298.2 426.6L298.5 426.1L299.0 425.7L298.7 425.0L299.0 424.4L299.4 423.9L299.2 423.3L299.3 422.7L299.4 422.1L299.8 421.6L300.0 421.0L300.1 420.4L300.3 419.9L300.7 419.4L300.8 418.8L300.5 418.1L300.9 417.6L301.1 417.0L301.4 416.5L301.4 415.8L301.4 415.2L301.6 414.7L301.5 414.0L302.0 413.6L302.1 413.0L302.4 412.4L302.2 411.8L302.5 411.2L302.5 410.6L302.6 410.1L303.0 409.5L303.0 408.9L303.2 408.4L303.1 407.7L303.4 407.2L303.2 406.6L303.5 406.0L303.7 405.4L304.0 404.9L304.1 404.3L304.1 403.7L304.4 403.2L304.4 402.6L304.6 402.0L304.8 401.5L304.7 400.8L304.8 400.2L305.0 399.7L305.0 399.1L305.3 398.5L305.6 398.0L305.6 397.4L305.5 396.8L305.4 396.2L305.8 395.6L305.9 395.0L306.3 394.5L306.1 393.9L306.3 393.3L306.6 392.8L306.5 392.1L306.6 391.6L307.1 391.1L307.2 390.5L307.2 389.9L307.2 389.2L307.1 388.6L307.5 388.1L307.6 387.5L307.7 386.9L307.7 386.3L307.9 385.7L308.0 385.1L308.3 384.5L308.6 384.0L308.6 383.4L308.3 382.7L308.5 382.1L308.5 381.5L308.8 381.0L309.3 380.5L309.5 379.9L309.5 379.3L309.8 378.7L309.9 378.1L309.9 377.5L310.1 376.9L310.4 376.4L311.0 376.0L310.8 375.2L311.4 374.8L311.7 374.3L311.6 373.6L311.8 373.1L311.8 372.4L312.2 372.0L312.8 371.6L312.8 370.9L313.4 370.5"/>
<path id="cD2" stroke-width="1.20" d="M313.4 370.5L313.7 370.0L313.6 369.4L313.8 368.8L313.9 368.2L314.2 367.7L313.9 366.9L314.7 366.6L314.9 366.1L314.9 365.3L316.3 365.8L315.7 364.5L316.0 364.0L316.8 363.9L316.5 362.9L317.2 362.7L317.4 362.1L318.1 361.8L318.8 361.7L319.5 361.6L320.2 361.7L320.6 361.5L321.0 361.7L321.5 361.6L322.2 361.4L322.4 362.3L323.2 362.0L323.8 362.1L323.9 363.2L324.5 363.3L325.1 363.3L325.5 363.8L325.9 364.2L327.0 363.8L327.1 364.5L327.9 364.5L328.0 365.3L328.7 365.4L328.6 366.5L329.2 366.6L330.1 366.4L330.4 367.0L331.1 367.0L331.3 367.7L331.6 368.3L332.1 368.6L333.2 368.2L333.3 369.0L333.5 369.8L334.1 370.1L334.3 370.8L335.5 370.3L335.5 371.3L336.3 371.3L336.6 371.9L337.0 372.4L337.4 372.9L338.2 372.8L338.5 373.4L339.3 373.2L339.8 373.3L340.0 374.3L340.6 374.4L341.4 373.9L341.9 374.3L342.3 374.9L342.6 375.8L343.2 375.9L343.8 376.0L344.7 375.0L345.0 375.8L345.6 376.2L346.2 376.2L346.7 376.3L347.3 376.1L347.9 377.0L348.4 377.0L349.1 376.3L349.7 375.9L350.2 377.2L350.8 376.2L351.4 376.9L352.1 377.3L352.6 376.0L353.2 376.4L353.8 376.0L354.5 376.3L355.1 376.1L355.8 376.8L356.4 376.1L356.9 375.7L357.6 376.1L358.2 375.4L358.8 375.2L359.5 376.2L359.9 374.9L360.5 374.8L361.1 375.0L361.6 374.4L362.1 373.8L362.9 375.0L363.4 374.3L364.0 374.2L364.6 374.2L365.2 373.8L365.8 373.7L366.4 374.2L367.0 375.3L367.6 374.7L368.2 374.6L368.8 373.6L369.4 374.2L370.1 373.8L370.6 374.6L371.3 374.3L371.9 374.4L372.5 374.4L373.1 374.2L373.7 373.7L374.3 374.7L374.9 373.9L375.5 373.9L376.1 374.3L376.7 374.2L377.3 374.7L377.9 375.1L378.5 374.9L379.1 374.9L379.7 374.9L380.3 375.4L381.0 374.3L381.5 375.2L382.2 374.8L382.8 374.7L383.4 375.4L384.0 375.3L384.5 375.8L385.1 376.2L385.9 374.8L386.4 375.7L386.9 376.8L387.5 376.5L388.1 376.8L388.8 376.2L389.4 375.4L390.0 375.5L390.7 376.2L391.3 376.3L391.9 375.5L392.5 375.6L393.1 375.8L393.7 374.8L394.3 375.3L395.1 376.2L395.7 376.5L396.2 375.4L396.9 376.1L397.4 375.1L398.0 374.8L398.5 374.0L399.2 375.3L399.8 374.8L400.5 375.9L401.0 375.1L401.6 374.8L402.1 373.9L402.9 375.2L403.4 374.4L404.0 374.4L404.5 373.4L405.2 374.7L405.8 374.7L406.4 374.0L407.0 374.2L407.6 374.2L408.2 374.5L408.8 374.1L409.4 374.7L410.0 374.0L410.6 373.8L411.2 373.9L412.0 373.1L412.5 373.9L412.9 374.9L413.6 374.7L414.3 374.3L414.8 374.9L415.6 374.0L416.0 374.8L416.6 375.3L417.1 375.5L417.9 375.0L418.3 375.7L418.9 376.3L419.6 375.5L420.2 376.0L420.9 375.1L421.5 374.9L422.0 376.1L422.6 376.0L423.2 376.2L423.8 375.9L424.4 376.1L425.0 376.7L425.5 377.2L426.2 376.5L426.9 375.8L427.3 377.2L428.0 377.1L428.6 377.2L429.2 377.0L429.7 378.1L430.4 377.2L431.0 377.4L431.7 376.5L432.3 377.0L432.9 377.1L433.4 377.5L434.0 377.8L434.7 377.4L435.1 378.5L435.9 377.5L436.4 377.7L437.0 378.2L437.7 377.6L438.2 378.5L438.8 378.6L439.4 378.3L439.9 379.4L440.6 378.7L441.2 378.8L441.9 378.4L442.5 378.1L443.1 378.6L443.6 378.9L444.2 379.0L444.6 379.7L445.5 378.5L446.0 379.1L446.6 379.0L446.9 380.5L447.6 379.9L448.2 380.0L448.8 379.9L449.2 380.9L449.9 380.5L450.4 380.9L451.2 380.1L451.5 381.5L452.1 381.5L452.7 381.7L453.2 382.1L453.9 381.7L454.5 381.8L454.9 382.3L455.5 382.3L456.2 382.2L456.7 382.4L457.3 382.3L457.8 383.0L458.3 383.3L459.0 383.0L459.4 383.9L460.3 382.7L460.8 383.2L461.1 384.3L461.9 383.6L462.6 383.1L462.9 384.5L463.5 384.4L464.3 383.8L464.6 384.7L465.4 384.1L466.0 384.1L466.5 384.7L467.1 384.8L467.7 384.6L468.2 385.1L468.8 385.0L469.3 385.6L469.9 385.7L470.3 386.2L471.1 385.9L471.7 385.6L472.3 385.7L472.8 386.3L473.1 387.3L473.7 387.2L474.5 386.7L474.9 387.5L475.7 386.8L476.0 387.8L476.8 387.4L477.2 388.0L477.8 388.2L478.5 387.9L479.0 388.3L479.7 387.8L480.2 388.3L480.7 389.0L481.0 390.5L481.9 389.3L482.6 389.0L483.3 388.6L483.7 389.6L484.5 388.6L485.1 389.0L485.6 389.6L486.3 389.1L486.7 390.4L487.3 390.4L488.0 389.8L488.7 389.8L489.3 389.6L489.9 389.7L490.4 390.6L490.9 390.9L491.6 390.9L492.2 391.0L492.9 390.7L493.4 391.2L494.1 390.5L494.6 391.2L495.1 392.1L495.7 392.2L496.4 391.5L497.0 391.6L497.5 392.5L498.0 392.9L498.9 391.6L499.5 392.0L500.0 392.5L500.5 393.0L501.3 392.3L501.8 393.0L502.4 392.8L502.8 394.0L503.5 393.4L504.2 393.2L504.8 393.3L505.2 394.0L505.8 394.0L506.6 393.4L507.0 394.0L507.8 393.5L508.3 393.9L508.9 393.8L509.5 393.9L510.0 394.3L510.6 394.3L511.0 395.1L511.6 395.5L512.2 395.2L512.9 394.9"/>
</g>
</svg>
</body></html>
